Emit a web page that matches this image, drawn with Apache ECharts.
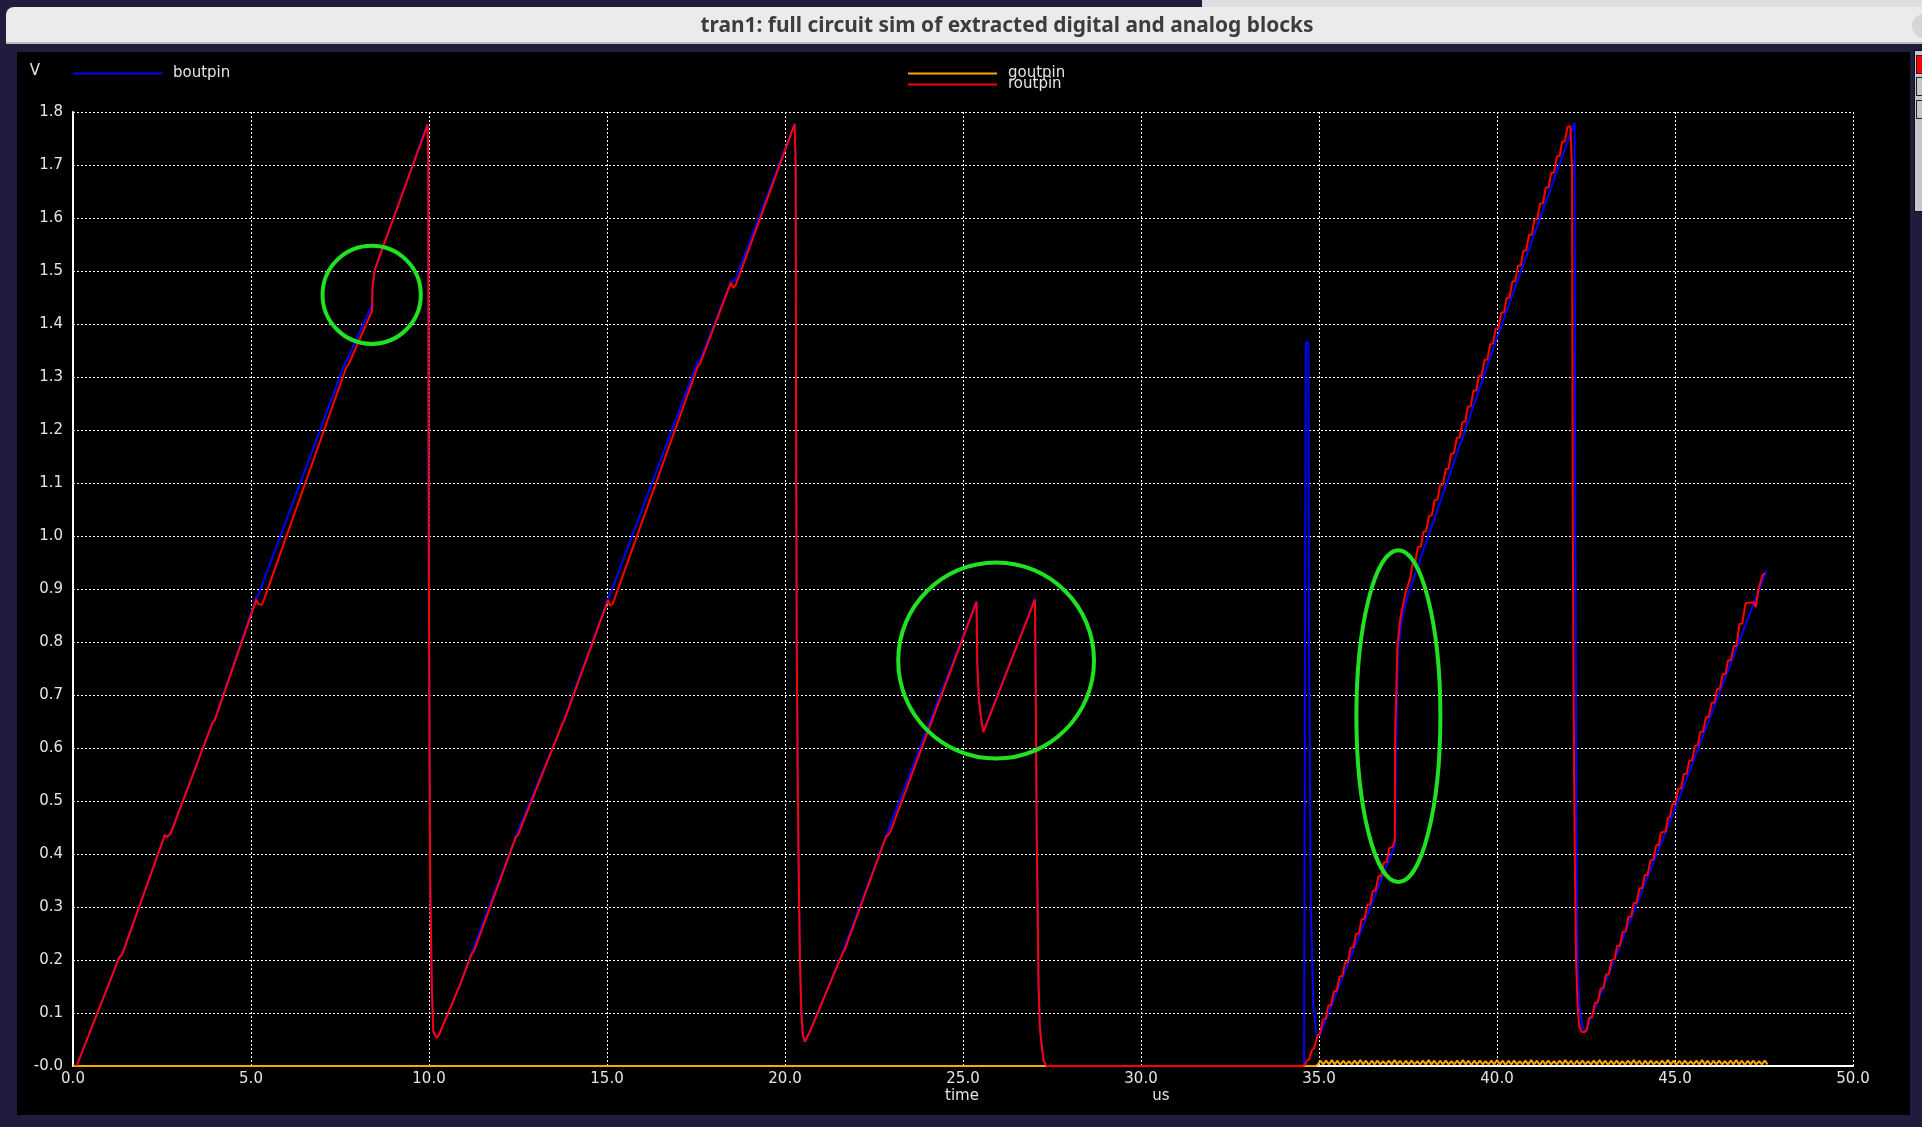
<!DOCTYPE html>
<html>
<head>
<meta charset="utf-8">
<script src="https://cdn.jsdelivr.net/npm/echarts@6/dist/echarts.min.js"></script>
<style>
  html, body { margin:0; padding:0; width:1922px; height:1127px; overflow:hidden; background:#201c3d; }
  .abs { position:absolute; }
  #topstrip { left:1202px; top:0; width:720px; height:7px; background:#dcdfe0; }
  #titlebar { left:6px; top:7px; width:1916px; height:35px; background:#ebebeb; border-bottom:2px solid #b9b9b9; border-top-left-radius:8px; }
  #btn { left:1912px; top:14px; width:24px; height:24px; border-radius:12px; background:#d6d6d6; }
  #panel { left:17px; top:52px; width:1893px; height:1063px; background:#000; }
  #side { left:1914px; top:50px; width:10px; height:160px; background:#c3c7cb; border:1px solid #111; }
  .sq { left:1916px; width:8px; height:17px; border:1px solid #222; background:#c3c7cb; }
  #chart { left:0; top:0; width:1922px; height:1127px; }
</style>
</head>
<body>
<div class="abs" id="topstrip"></div>
<div class="abs" id="titlebar"></div>
<div class="abs" id="btn"></div>
<div class="abs" id="panel"></div>
<div class="abs" id="side"></div>
<div class="abs sq" style="top:55px;background:#ff0000;"></div>
<div class="abs sq" style="top:77px;"></div>
<div class="abs sq" style="top:100px;"></div>
<div class="abs" id="chart"></div>
<script>
// ---------------- data (time in us, value in V) ----------------
const titleText = 'tran1: full circuit sim of extracted digital and analog blocks';
const xTickLabels = ['0.0','5.0','10.0','15.0','20.0','25.0','30.0','35.0','40.0','45.0','50.0'];
const yTickLabels = ['-0.0','0.1','0.2','0.3','0.4','0.5','0.6','0.7','0.8','0.9','1.0','1.1','1.2','1.3','1.4','1.5','1.6','1.7','1.8'];
const seriesNames = ['boutpin','goutpin','routpin'];

const boutpin = [
  [0.10,0],[1.30,0.205],[1.38,0.212],[2.58,0.435],[2.66,0.434],[2.75,0.442],[3.92,0.648],[3.98,0.654],
  [5.15,0.884],[5.22,0.891],[7.66,1.330],[7.72,1.335],[8.36,1.430],[8.40,1.440],[8.42,1.470],[8.48,1.502],
  [8.58,1.522],[9.95,1.777],[9.98,1.70],[9.99,1.02],[10.03,0.36],[10.08,0.148],[10.12,0.065],[10.22,0.053],
  [10.30,0.062],[10.87,0.153],[11.20,0.214],[12.45,0.435],[13.76,0.648],[15.03,0.882],[15.10,0.892],
  [17.55,1.330],[17.62,1.333],[18.48,1.480],[18.60,1.483],[20.27,1.778],[20.30,1.70],[20.31,1.26],
  [20.33,0.79],[20.36,0.52],[20.39,0.34],[20.42,0.20],[20.46,0.10],[20.50,0.058],[20.56,0.046],
  [20.70,0.066],[21.62,0.215],[22.85,0.436],[25.38,0.878],[25.40,0.76],[25.45,0.69],[25.50,0.66],
  [25.57,0.632],[27.02,0.882],[27.04,0.74],[27.07,0.44],[27.10,0.28],[27.12,0.16],[27.16,0.07],
  [27.26,0.01],[27.35,0],[34.58,0],[34.63,1.365],[34.70,1.365],[34.72,0.814],[34.77,0.30],[34.81,0.195],
  [34.84,0.113],[34.93,0.058],[35.02,0.058],[37.14,0.418],[37.17,0.625],[37.22,0.785],[37.32,0.840],
  [37.48,0.885],[37.74,0.935],[39.99,1.372],[42.15,1.775],[42.18,1.780],[42.20,1.00],[42.24,0.37],
  [42.27,0.18],[42.32,0.11],[42.40,0.075],[42.48,0.064],[45.00,0.485],[47.57,0.935]
];

const goutpin = [
  [0,0],[34.92,0],[34.98,0.004],
  [35.04,0.010],[35.12,0.003],[35.20,0.010],[35.28,0.003],[35.36,0.011],[35.44,0.003],[35.52,0.010],[35.60,0.002],
  [35.68,0.010],[35.76,0.003],[35.84,0.009],[35.92,0.003],[36.00,0.010],[36.08,0.003],[36.16,0.011],[36.24,0.003],
  [36.32,0.010],[36.40,0.002],[36.48,0.010],[36.56,0.003],[36.64,0.010],[36.72,0.003],[36.80,0.009],[36.88,0.003],
  [36.96,0.010],[37.04,0.003],[37.12,0.011],[37.20,0.003],[37.28,0.010],[37.36,0.002],[37.44,0.010],[37.52,0.003],
  [37.60,0.010],[37.68,0.003],[37.76,0.009],[37.84,0.003],[37.92,0.010],[38.00,0.003],[38.08,0.011],[38.16,0.003],
  [38.24,0.010],[38.32,0.002],[38.40,0.010],[38.48,0.003],[38.56,0.010],[38.64,0.003],[38.72,0.009],[38.80,0.003],
  [38.88,0.010],[38.96,0.003],[39.04,0.011],[39.12,0.003],[39.20,0.010],[39.28,0.002],[39.36,0.010],[39.44,0.003],
  [39.52,0.010],[39.60,0.003],[39.68,0.009],[39.76,0.003],[39.84,0.010],[39.92,0.003],[40.00,0.011],[40.08,0.003],
  [40.16,0.010],[40.24,0.002],[40.32,0.010],[40.40,0.003],[40.48,0.010],[40.56,0.003],[40.64,0.009],[40.72,0.003],
  [40.80,0.010],[40.88,0.003],[40.96,0.011],[41.04,0.003],[41.12,0.010],[41.20,0.002],[41.28,0.010],[41.36,0.003],
  [41.44,0.010],[41.52,0.003],[41.60,0.009],[41.68,0.003],[41.76,0.010],[41.84,0.003],[41.92,0.011],[42.00,0.003],
  [42.08,0.010],[42.16,0.002],[42.24,0.010],[42.32,0.003],[42.40,0.010],[42.48,0.003],[42.56,0.009],[42.64,0.003],
  [42.72,0.010],[42.80,0.003],[42.88,0.011],[42.96,0.003],[43.04,0.010],[43.12,0.002],[43.20,0.010],[43.28,0.003],
  [43.36,0.010],[43.44,0.003],[43.52,0.009],[43.60,0.003],[43.68,0.010],[43.76,0.003],[43.84,0.011],[43.92,0.003],
  [44.00,0.010],[44.08,0.002],[44.16,0.010],[44.24,0.003],[44.32,0.010],[44.40,0.003],[44.48,0.009],[44.56,0.003],
  [44.64,0.010],[44.72,0.003],[44.80,0.011],[44.88,0.003],[44.96,0.010],[45.04,0.002],[45.12,0.010],[45.20,0.003],
  [45.28,0.010],[45.36,0.003],[45.44,0.009],[45.52,0.003],[45.60,0.010],[45.68,0.003],[45.76,0.011],[45.84,0.003],
  [45.92,0.010],[46.00,0.002],[46.08,0.010],[46.16,0.003],[46.24,0.010],[46.32,0.003],[46.40,0.009],[46.48,0.003],
  [46.56,0.010],[46.64,0.003],[46.72,0.011],[46.80,0.003],[46.88,0.010],[46.96,0.002],[47.04,0.010],[47.12,0.003],
  [47.20,0.010],[47.28,0.003],[47.36,0.009],[47.44,0.003],[47.52,0.010],[47.60,0.003]
];

// routpin, smooth part (0 .. 34.56 us)
const routpinA = [
  [0.10,0],[1.30,0.205],[1.36,0.208],[1.40,0.214],[2.58,0.436],[2.64,0.432],[2.74,0.438],[3.92,0.648],
  [3.98,0.652],[5.15,0.880],[5.20,0.872],[5.30,0.870],[5.36,0.879],[7.67,1.317],[7.75,1.325],[8.37,1.420],
  [8.40,1.424],[8.41,1.468],[8.47,1.500],[8.58,1.522],[9.96,1.776],[9.98,1.70],[9.99,1.02],[10.03,0.36],
  [10.08,0.148],[10.12,0.065],[10.22,0.053],[10.30,0.062],[10.87,0.153],[11.20,0.212],[11.26,0.216],
  [12.44,0.432],[12.50,0.436],[13.75,0.646],[13.80,0.652],[15.03,0.879],[15.08,0.869],[15.16,0.872],
  [17.55,1.320],[17.62,1.326],[18.48,1.478],[18.55,1.468],[18.62,1.474],[20.27,1.777],[20.30,1.70],
  [20.31,1.26],[20.33,0.79],[20.36,0.52],[20.39,0.34],[20.42,0.20],[20.46,0.10],[20.50,0.058],[20.56,0.046],
  [20.70,0.065],[21.62,0.213],[21.68,0.220],[22.84,0.433],[22.90,0.436],[22.96,0.442],[25.38,0.876],
  [25.40,0.76],[25.45,0.69],[25.50,0.66],[25.57,0.630],[25.62,0.638],[27.02,0.880],[27.04,0.74],
  [27.07,0.44],[27.10,0.28],[27.12,0.16],[27.16,0.07],[27.26,0.01],[27.35,0],[34.56,0]
];

// routpin, clock-stepped part (34.56 .. 47.52 us): each step = start of flat, end of flat
const routpinB = [
  [34.56,0],[34.62,0.004],[34.66,0.010],[34.72,0.012],[34.80,0.030],[34.86,0.033],[34.96,0.058],[35.03,0.061],
  [35.11,0.088],[35.19,0.089],[35.26,0.114],[35.34,0.115],[35.42,0.141],[35.50,0.142],[35.58,0.169],[35.66,0.170],
  [35.73,0.195],[35.81,0.196],[35.89,0.223],[35.97,0.224],[36.04,0.249],[36.12,0.250],[36.20,0.277],[36.28,0.278],
  [36.36,0.304],[36.44,0.305],[36.51,0.330],[36.59,0.331],[36.67,0.358],[36.75,0.359],[36.82,0.384],[36.90,0.385],
  [36.98,0.412],[37.06,0.413],[37.13,0.425],
  [37.14,0.64],[37.17,0.70],[37.20,0.79],[37.28,0.843],[37.42,0.89],[37.56,0.92],[37.63,0.948],[37.70,0.95],
  [37.78,0.979],[37.86,0.980],[37.93,1.008],[38.01,1.009],[38.09,1.038],[38.17,1.039],[38.25,1.068],[38.33,1.069],
  [38.40,1.096],[38.48,1.097],[38.56,1.126],[38.64,1.127],[38.71,1.155],[38.79,1.156],[38.87,1.185],[38.95,1.186],
  [39.03,1.215],[39.11,1.216],[39.18,1.244],[39.26,1.245],[39.34,1.274],[39.42,1.275],[39.49,1.302],[39.57,1.303],
  [39.65,1.332],[39.73,1.333],[39.81,1.362],[39.89,1.363],[39.96,1.391],[40.04,1.392],[40.12,1.421],[40.20,1.422],
  [40.27,1.449],[40.35,1.450],[40.43,1.480],[40.51,1.481],[40.59,1.510],[40.67,1.511],[40.74,1.538],[40.82,1.539],
  [40.90,1.568],[40.98,1.569],[41.05,1.597],[41.13,1.598],[41.21,1.627],[41.29,1.628],[41.37,1.657],[41.45,1.658],
  [41.52,1.685],[41.60,1.686],[41.68,1.716],[41.76,1.717],[41.83,1.744],[41.91,1.745],[41.98,1.772],[42.06,1.773],
  [42.10,1.775],
  [42.11,1.69],[42.13,1.00],[42.16,0.60],[42.19,0.37],[42.22,0.20],[42.26,0.12],[42.31,0.075],[42.38,0.064],
  [42.46,0.064],[42.52,0.068],
  [42.59,0.091],[42.67,0.092],[42.75,0.119],[42.83,0.120],[42.91,0.146],[42.99,0.147],[43.06,0.172],[43.14,0.173],
  [43.22,0.200],[43.30,0.201],[43.37,0.226],[43.45,0.227],[43.53,0.253],[43.61,0.254],[43.69,0.281],[43.77,0.282],
  [43.84,0.307],[43.92,0.308],[44.00,0.335],[44.08,0.336],[44.15,0.360],[44.23,0.361],[44.31,0.388],[44.39,0.389],
  [44.47,0.416],[44.55,0.417],[44.60,0.440],[44.74,0.443],[44.80,0.468],[44.86,0.470],[44.93,0.495],[45.01,0.496],
  [45.09,0.523],[45.17,0.524],[45.25,0.551],[45.33,0.552],[45.40,0.576],[45.48,0.577],[45.56,0.604],[45.64,0.605],
  [45.71,0.630],[45.79,0.631],[45.87,0.658],[45.95,0.659],[46.03,0.685],[46.11,0.686],[46.18,0.711],[46.26,0.712],
  [46.34,0.739],[46.42,0.740],[46.49,0.765],[46.57,0.766],[46.65,0.792],[46.73,0.793],[46.81,0.834],[46.89,0.835],
  [46.98,0.873],[47.20,0.875],[47.27,0.866],[47.34,0.898],[47.38,0.900],[47.45,0.925],[47.52,0.930]
];

// green hand-drawn annotation ellipses, in data units: centre (t, v) and radii (rt us, rv V)
const annotT  = [8.39, 25.93, 37.23];
const annotV  = [1.455, 0.765, 0.66];
const annotRt = [1.38, 2.75, 1.18];
const annotRv = [0.0925, 0.185, 0.313];

// ---------------- chart ----------------
const labelFont = 'DejaVu Sans';
const labelColor = '#e4e4e4';
const chart = echarts.init(document.getElementById('chart'), null, {renderer:'canvas'});

function textEl(id, x, y, text, font, color, scaleX) {
  return { type:'text', id:id, x:x, y:y, scaleX: scaleX || 1, z:100,
    style:{ text:text, font:font, fill:color, align:'center', verticalAlign:'middle',
            textAlign:'center', textVerticalAlign:'middle' } };
}
const baseGraphics = [
  textEl('title', 1007, 26, titleText, 'bold 22px "Noto Sans"', '#3d3d3d', 0.95),
  textEl('vlab', 35, 71, 'V', '15px "DejaVu Sans"', labelColor),
  textEl('tlab', 962, 1096, 'time', '15px "DejaVu Sans"', labelColor),
  textEl('ulab', 1161, 1096, 'us', '15px "DejaVu Sans"', labelColor)
];

const legendText = { color: labelColor, fontSize: 15, fontFamily: labelFont, padding:[0,0,0,6] };
const legendBase = { icon:'rect', itemWidth:89, itemHeight:2, selectedMode:false, padding:0, textStyle: legendText };
const option = {
  backgroundColor: 'transparent',
  animation: false,
  legend: [
    Object.assign({ data:['boutpin'], left:73, top:66 }, legendBase),
    Object.assign({ data:['goutpin'], left:908, top:66 }, legendBase),
    Object.assign({ data:['routpin'], left:908, top:77 }, legendBase)
  ],
  grid: { left:73, top:112, width:1780, height:954, containLabel:false },
  xAxis: {
    type:'value', min:0, max:50, interval:5,
    axisLine:{ show:true, lineStyle:{ color:'#ffffff', width:2 } },
    axisTick:{ show:false },
    axisLabel:{ color:labelColor, fontSize:15, fontFamily:labelFont, margin:6,
      formatter: v => xTickLabels[Math.round(v/5)] },
    splitLine:{ show:true, lineStyle:{ color:'#ffffff', width:1, type:[2,2] } }
  },
  yAxis: {
    type:'value', min:0, max:1.8, interval:0.1,
    axisLine:{ show:true, lineStyle:{ color:'#ffffff', width:2 } },
    axisTick:{ show:false },
    axisLabel:{ color:labelColor, fontSize:15, fontFamily:labelFont, margin:10,
      formatter: v => yTickLabels[Math.round(v*10)] },
    splitLine:{ show:true, lineStyle:{ color:'#ffffff', width:1, type:[2,2] } }
  },
  graphic: baseGraphics,
  series: [
    { name: seriesNames[0], type:'line', data: boutpin, showSymbol:false, symbol:'none', z:2,
      color:'#0000ff', lineStyle:{ color:'#0000ff', width:2 } },
    { name: seriesNames[1], type:'line', data: goutpin, showSymbol:false, symbol:'none', z:3,
      color:'#ffa500', lineStyle:{ color:'#ffa500', width:2 } },
    { name: seriesNames[2], type:'line', data: routpinA, showSymbol:false, symbol:'none', z:4,
      color:'#ff0000', lineStyle:{ color:'#ff0000', width:2 } },
    { name: seriesNames[2], type:'line', data: routpinB, showSymbol:false, symbol:'none', z:4,
      color:'#ff0000', lineStyle:{ color:'#ff0000', width:2 } }
  ]
};
chart.setOption(option);

// place the annotation ellipses through the chart's own scales
const ellipses = annotT.map((t, i) => {
  const c = chart.convertToPixel({gridIndex:0}, [t, annotV[i]]);
  const e = chart.convertToPixel({gridIndex:0}, [t + annotRt[i], annotV[i] + annotRv[i]]);
  return { type:'ellipse', id:'ell' + i, z:90,
    shape:{ cx:c[0], cy:c[1], rx:Math.abs(e[0]-c[0]), ry:Math.abs(c[1]-e[1]) },
    style:{ fill:'none', stroke:'#22e022', lineWidth:4 } };
});
chart.setOption({ graphic: baseGraphics.concat(ellipses) }, { replaceMerge:['graphic'] });
</script>
</body>
</html>
